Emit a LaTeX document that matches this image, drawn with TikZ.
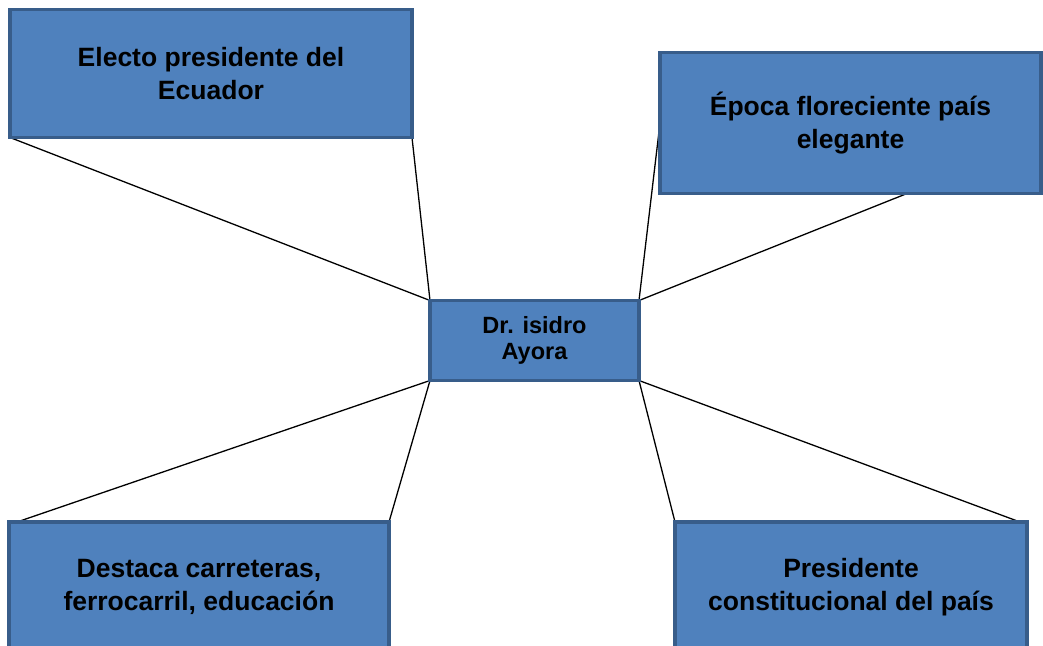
\documentclass[tikz,border=0pt]{standalone}
\usepackage{fontspec}
\setmainfont{Liberation Sans}
\definecolor{boxfill}{HTML}{4F81BD}
\definecolor{boxline}{HTML}{385D8A}
\begin{document}
\begin{tikzpicture}[x=1pt,y=-1pt,
  idea/.style={draw=boxline, fill=boxfill, line width=3.5pt, rectangle, inner sep=0pt, outer sep=0pt,
    align=center, font=\fontsize{26.5}{33}\selectfont\bfseries},
  core/.style={idea, font=\fontsize{23.5}{26.7}\selectfont\bfseries},
  link/.style={draw=black, line width=1.3pt}]
\useasboundingbox (0,0) rectangle (1043,645);
\pgfdeclarelayer{bg}\pgfsetlayers{bg,main}
\node[idea, minimum width=402pt, minimum height=128pt] (tl) at (211,73.5) {Electo presidente del\\Ecuador};
\node[idea, minimum width=381pt, minimum height=141pt] (tr) at (850.5,123) {Época floreciente país\\elegante};
\node[core, minimum width=209pt, minimum height=80pt] (c) at (534.5,340.5) {Dr. isidro\\Ayora};
\node[idea, minimum width=380pt, minimum height=130pt] (bl) at (199,587) {Destaca carreteras,\\ferrocarril, educación};
\node[idea, minimum width=352pt, minimum height=130pt] (br) at (851,587) {Presidente\\constitucional del país};
\begin{pgfonlayer}{bg}
\draw[link] (tl.south west) -- (c.north west);
\draw[link] (tl.south east) -- (c.north west);
\draw[link] (c.north east) -- (tr.west);
\draw[link] (c.north east) -- ([xshift=247pt]tr.south west);
\draw[link] (c.south west) -- ([xshift=8pt]bl.north west);
\draw[link] (c.south west) -- (bl.north east);
\draw[link] (c.south east) -- (br.north west);
\draw[link] (c.south east) -- ([xshift=-7pt]br.north east);
\end{pgfonlayer}
\end{tikzpicture}
\end{document}
